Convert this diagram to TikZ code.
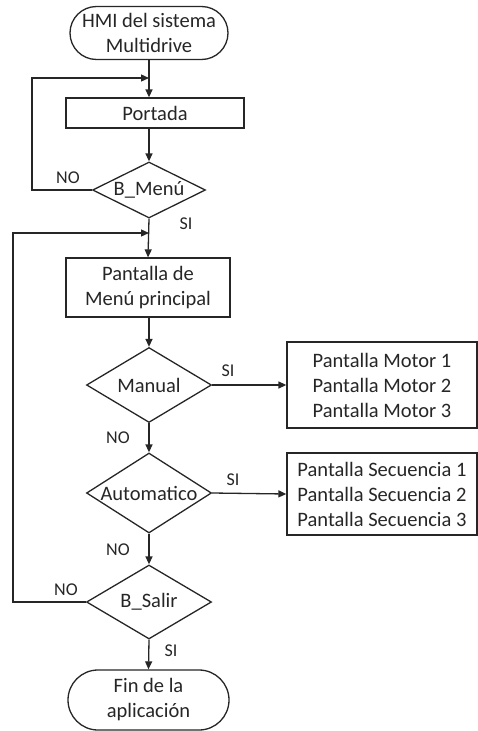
\documentclass[tikz,border=0pt]{standalone}
\usepackage{fontspec}
\setmainfont{Carlito}
\usetikzlibrary{shapes.geometric,shapes.misc,arrows.meta}

\tikzset{
  base/.style={draw=black!85, line width=1.3pt, text=black!85, align=center,
    inner sep=0pt, font=\fontsize{20.5}{25}\selectfont},
  term/.style={base, rounded rectangle},
  proc/.style={base, rectangle},
  decision/.style={base, diamond, inner xsep=-40pt},
  flow/.style={draw=black!85, line width=1.3pt, -{Triangle[length=8pt,width=7pt]}},
  lbl/.style={text=black!85, font=\fontsize{18}{20}\selectfont},
}

\begin{document}
\begin{tikzpicture}[x=1pt, y=-1pt]
\useasboundingbox (0,0) rectangle (478,731);

% main column
\node[term, minimum width=158pt, minimum height=53pt] (inicio) at (149,33) {HMI del sistema\\Multidrive};
\node[proc, minimum width=178pt, minimum height=30pt] (portada) at (155,113) {Portada};
\node[decision, minimum width=113pt, minimum height=56pt] (bmenu) at (149,190) {B\_Menú};
\node[proc, minimum width=164pt, minimum height=59pt] (menu) at (148,287.5) {Pantalla de\\Menú principal};
\node[decision, minimum width=125pt, minimum height=75pt] (manual) at (149,385) {Manual};
\node[decision, minimum width=125pt, minimum height=80pt] (auto) at (149,493) {Automatico};
\node[decision, minimum width=125pt, minimum height=74pt] (bsalir) at (149,602) {B\_Salir};
\node[term, minimum width=161pt, minimum height=60pt] (fin) at (148.5,700) {Fin de la\\aplicación};

% screens on the right
\node[proc, minimum width=190pt, minimum height=86pt] (motores) at (382,385) {Pantalla Motor 1\\Pantalla Motor 2\\Pantalla Motor 3};
\node[proc, minimum width=190pt, minimum height=82pt] (secuencias) at (382,494) {Pantalla Secuencia 1\\Pantalla Secuencia 2\\Pantalla Secuencia 3};

% return points of the loops
\coordinate (ret1) at (149,78);
\coordinate (ret2) at (149,233);

\draw[flow] (inicio.south) -- (inicio.south |- portada.north);
\draw[flow] (inicio.south |- portada.south) -- (bmenu.north);
\draw[flow] (bmenu.south) -- (menu.north);
\draw[flow] (menu.south -| manual.north) -- (manual.north);
\draw[flow] (manual.south) -- (auto.north);
\draw[flow] (auto.south) -- (bsalir.north);
\draw[flow] (bsalir.south) -- (fin.north);

\draw[flow] (manual.east) -- (motores.west);
\draw[flow] (auto.east) -- (secuencias.west);

\draw[flow] (bmenu.west) -- (32,190) -- (32,78) -- (ret1);
\draw[flow] (bsalir.west) -- (13,602) -- (13,233) -- (ret2);

% branch labels
\node[lbl] at (68,178) {NO};
\node[lbl] at (186,224) {SI};
\node[lbl] at (228,371) {SI};
\node[lbl] at (118,438) {NO};
\node[lbl] at (233,480) {SI};
\node[lbl] at (118,550) {NO};
\node[lbl] at (66,590) {NO};
\node[lbl] at (171,651) {SI};

\end{tikzpicture}
\end{document}
